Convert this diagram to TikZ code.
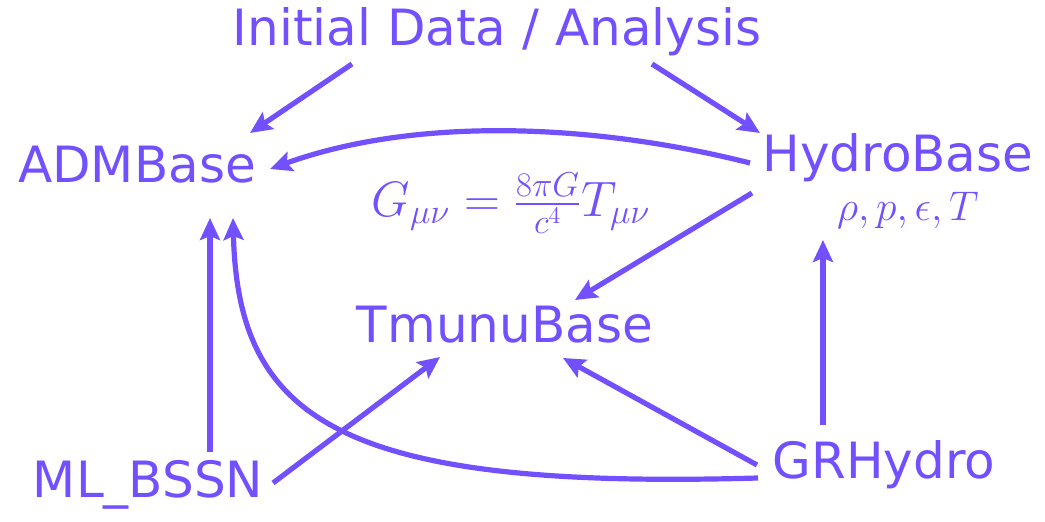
\documentclass[tikz,border=0pt]{standalone}
\usepackage{fontspec}
\setmainfont{DejaVu Sans}
\usepackage{amsmath}
\usetikzlibrary{arrows.meta}
\definecolor{vio}{RGB}{114,80,255}
\begin{document}
\begin{tikzpicture}[x=0.5pt,y=-0.5pt,
  lbl/.style={text=vio,inner sep=0pt,font=\fontsize{25}{30}\selectfont},
  mth/.style={text=vio,inner sep=0pt},
  link/.style={draw=vio,line width=2.6pt,-{Stealth[length=11pt,width=10pt,inset=2pt]}}]
\useasboundingbox (0,0) rectangle (1045,522);
\node[lbl] (init) at (497,32) {Initial Data / Analysis};
\node[lbl] (adm) at (137,165) {ADMBase};
\node[lbl] (hydro) at (898,158) {HydroBase};
\node[mth] (vars) at (908,210) {\fontsize{20}{24}\selectfont$\rho, p, \epsilon, T$};
\node[mth] (eq) at (511,203) {\fontsize{24}{28}\selectfont$G_{\mu\nu} = \frac{8\pi G}{c^4} T_{\mu\nu}$};
\node[lbl] (tmunu) at (505,325) {TmunuBase};
\node[lbl] (bssn) at (148,485) {ML\_BSSN};
\node[lbl] (grh) at (884,465) {GRHydro};
% endpoints
\coordinate (initL) at (352,64);
\coordinate (initR) at (652,64);
\coordinate (admNE) at (250,133);
\coordinate (admE) at (270,169);
\coordinate (admS1) at (210,218);
\coordinate (admS2) at (233,218);
\coordinate (hydroNW) at (760,133);
\coordinate (hydroW) at (750,163);
\coordinate (hydroSW) at (752,193);
\coordinate (varsS) at (823,240);
\coordinate (tmunuNE) at (575,300);
\coordinate (tmunuSW) at (440,357);
\coordinate (tmunuSE) at (563,358);
\coordinate (bssnN) at (210,452);
\coordinate (bssnE) at (273,483);
\coordinate (grhN) at (823,425);
\coordinate (grhNW) at (757,465);
\coordinate (grhW) at (758,478);
\draw[link] (initL) -- (admNE);
\draw[link] (initR) -- (hydroNW);
\draw[link] (hydroW) .. controls (600,125) and (420,115) .. (admE);
\draw[link] (hydroSW) -- (tmunuNE);
\draw[link] (bssnN) -- (admS1);
\draw[link] (grhW) .. controls (340,490) and (238,420) .. (admS2);
\draw[link] (bssnE) -- (tmunuSW);
\draw[link] (grhNW) -- (tmunuSE);
\draw[link] (grhN) -- (varsS);
\end{tikzpicture}
\end{document}
